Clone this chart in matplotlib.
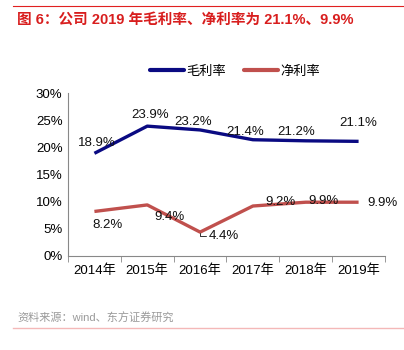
import matplotlib
matplotlib.use("Agg")
import matplotlib.pyplot as plt
from matplotlib.lines import Line2D

plt.rcParams["font.family"] = ["Liberation Sans", "Noto Sans CJK SC", "DejaVu Sans"]

years = ["2014年", "2015年", "2016年", "2017年", "2018年", "2019年"]
gross = [18.9, 23.9, 23.2, 21.4, 21.2, 21.1]
net = [8.2, 9.4, 4.4, 9.2, 9.9, 9.9]
yticks = [0, 5, 10, 15, 20, 25, 30]

BLUE = "#0a0a82"
RED = "#c0504d"

fig = plt.figure(figsize=(4.04, 3.5), dpi=100)
W, H = 404, 350
ax = fig.add_axes([68 / W, 1 - 256 / H, (385 - 68) / W, (256 - 93) / H])

x = list(range(len(years)))
ax.plot(x, gross, color=BLUE, lw=2.4, solid_capstyle="butt")
ax.plot(x, net, color=RED, lw=2.4, solid_capstyle="butt")

ax.set_xlim(-0.5, len(years) - 0.5)
ax.set_ylim(0, 30)
ax.set_yticks(yticks)
ax.set_yticklabels([f"{v}%" for v in yticks], fontsize=9.5)
ax.set_xticks(x)
ax.set_xticklabels(years, fontsize=9.5)
ax.set_xticks([i - 0.5 for i in range(len(years) + 1)], minor=True)
ax.tick_params(axis="x", which="major", length=0, pad=6)
ax.tick_params(axis="x", which="minor", length=4, color="#888888", direction="out")
ax.tick_params(axis="y", length=0, pad=4)
for s in ["top", "right"]:
    ax.spines[s].set_visible(False)
for s in ["left", "bottom"]:
    ax.spines[s].set_color("#888888")
    ax.spines[s].set_linewidth(0.8)

# label offsets in pixels (label centre relative to point)
g_off = [(2, 10), (3, 11), (-7, 8), (-8, 8), (-10, 9), (0, 18)]
n_off = [(13, -14), (22, -12), (24, -4), (28, 4), (18, 1), (24, -1)]
for i, v in enumerate(gross):
    ax.annotate(f"{v}%", (i, v), xytext=g_off[i], textcoords="offset pixels",
                ha="center", va="center", fontsize=9.5, color="#111111")
for i, v in enumerate(net):
    kw = {}
    if i == 2:
        kw["arrowprops"] = dict(arrowstyle="-", color="#333333", lw=0.7,
                                connectionstyle="angle,angleA=0,angleB=90,rad=0",
                                shrinkA=0, shrinkB=1)
    ax.annotate(f"{v}%", (i, v), xytext=n_off[i], textcoords="offset pixels",
                ha="center", va="center", fontsize=9.5, color="#111111", **kw)

# legend
handles = [Line2D([], [], color=BLUE, lw=3, solid_capstyle="round"),
           Line2D([], [], color=RED, lw=3, solid_capstyle="round")]
fig.legend(handles, ["毛利率", "净利率"], loc="center", bbox_to_anchor=(235 / W, 1 - 72 / H),
           ncol=2, frameon=False, fontsize=9.5, handlelength=2.6, columnspacing=1.3,
           handletextpad=0.2)

# title and rules
fig.add_artist(Line2D([13 / W, 403 / W], [1 - 6 / H, 1 - 6 / H], color="#e02020", lw=0.8))
fig.text(17 / W, 1 - 20 / H, "图 6：公司 2019 年毛利率、净利率为 21.1%、9.9%",
         fontsize=10.5, color="#d81e1e", fontweight="bold", va="center", ha="left")
fig.text(17 / W, 1 - 318 / H, "资料来源：wind、东方证券研究", fontsize=8,
         color="#9a9a9a", va="center", ha="left")
fig.add_artist(Line2D([13 / W, 403 / W], [1 - 328 / H, 1 - 328 / H], color="#f4b8b8", lw=1.0))

fig.savefig("out.png", dpi=100)
